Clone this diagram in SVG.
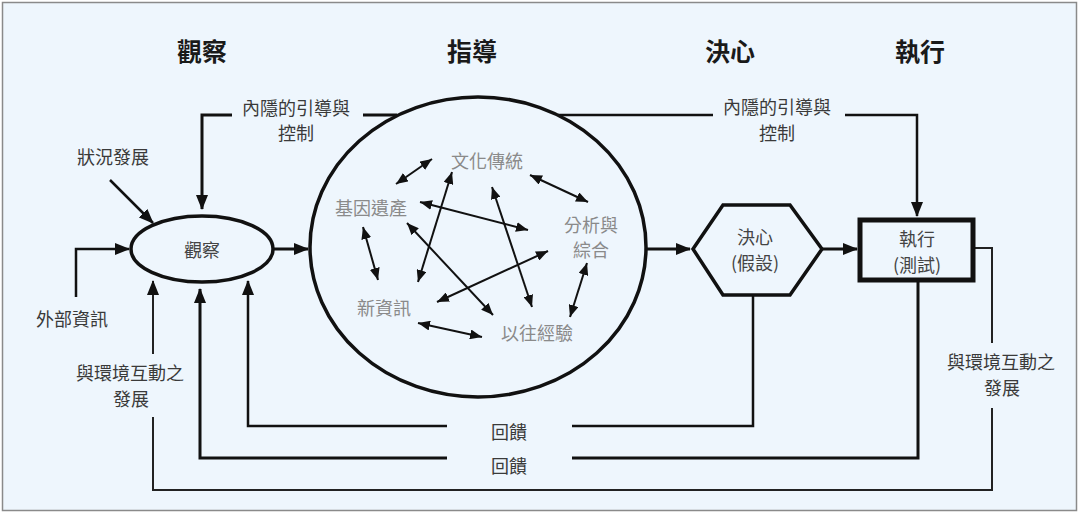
<svg xmlns="http://www.w3.org/2000/svg" width="1080" height="514" viewBox="0 0 1080 514">
<style>
text{font-family:"Noto Sans CJK TC","Noto Sans CJK SC",sans-serif;text-anchor:middle;dominant-baseline:central}
.h{font-size:25px;font-weight:bold;fill:#1a1a1a}
.l{font-size:18px;fill:#3a3a3a}
.g{font-size:18px;fill:#8a8a8a}
.n{font-size:18px;fill:#444}
.thick{fill:none;stroke:#111;stroke-width:3}
.med{fill:none;stroke:#111;stroke-width:2.5}
.thin{fill:none;stroke:#222;stroke-width:2}
.inner{fill:none;stroke:#111;stroke-width:2;marker-start:url(#as);marker-end:url(#as)}
</style>
<defs>
<marker id="ah" markerUnits="userSpaceOnUse" markerWidth="15" markerHeight="12" refX="14" refY="6" orient="auto"><path d="M0,0 L15,6 L0,12 z" fill="#111"/></marker>
<marker id="as" markerUnits="userSpaceOnUse" markerWidth="12" markerHeight="10" refX="12" refY="5" orient="auto-start-reverse"><path d="M0,0 L12,5 L0,10 z" fill="#111"/></marker>
</defs>
<rect x="0" y="0" width="1080" height="514" fill="#ffffff"/>
<rect x="2.5" y="2.5" width="1074" height="508" fill="#eef6fd" stroke="#8a8a8a" stroke-width="1.5"/>

<g id="headers">
<text class="h" x="202" y="50">觀察</text>
<text class="h" x="472" y="50">指導</text>
<text class="h" x="730" y="50">決心</text>
<text class="h" x="920" y="50">執行</text>
</g>

<g id="connectors">
<path class="thick" d="M397,115 L363,115"/>
<path class="thick" d="M232,115 L202,115 L202,209" marker-end="url(#ah)"/>
<path class="med" d="M558,115 L713,115"/>
<path class="med" d="M845,115 L917,115 L917,216" marker-end="url(#ah)"/>
<path class="thick" d="M273,249 L308,249" marker-end="url(#ah)"/>
<path class="thick" d="M646,249 L690,249" marker-end="url(#ah)"/>
<path class="thick" d="M822,249 L857,249" marker-end="url(#ah)"/>
<path class="med" d="M110,180 L153,223" marker-end="url(#ah)"/>
<path class="med" d="M76,297 L76,249 L129,249" marker-end="url(#ah)"/>
<path class="med" d="M753,295 L753,426 L572,426"/>
<path class="med" d="M447,426 L248,426 L248,281" marker-end="url(#ah)"/>
<path class="thick" d="M918,282 L918,458 L572,458"/>
<path class="thick" d="M447,458 L200,458 L200,289" marker-end="url(#ah)"/>
<path class="thin" d="M975,248 L992,248 L992,343"/>
<path class="thin" d="M992,408 L992,490 L153,490 L153,417"/>
<path class="thin" d="M153,354 L153,281" marker-end="url(#ah)"/>
<line class="inner" x1="396" y1="184" x2="432" y2="159"/>
<line class="inner" x1="530" y1="175" x2="588" y2="202"/>
<line class="inner" x1="420" y1="202" x2="528" y2="230"/>
<line class="inner" x1="452" y1="172" x2="418" y2="282"/>
<line class="inner" x1="492" y1="187" x2="532" y2="307"/>
<line class="inner" x1="407" y1="223" x2="493" y2="315"/>
<line class="inner" x1="363" y1="227" x2="378" y2="280"/>
<line class="inner" x1="437" y1="302" x2="548" y2="251"/>
<line class="inner" x1="418" y1="323" x2="482" y2="337"/>
<line class="inner" x1="587" y1="263" x2="570" y2="317"/>
</g>

<g id="labels">
<text class="l" x="296" y="107">內隱的引導與</text>
<text class="l" x="296" y="132">控制</text>
<text class="l" x="777" y="106">內隱的引導與</text>
<text class="l" x="777" y="132">控制</text>
<text class="l" x="113" y="156">狀況發展</text>
<text class="l" x="72" y="318">外部資訊</text>
<text class="l" x="130" y="372">與環境互動之</text>
<text class="l" x="131" y="398">發展</text>
<text class="l" x="1001" y="361">與環境互動之</text>
<text class="l" x="1002" y="387">發展</text>
<text class="l" x="509" y="431">回饋</text>
<text class="l" x="509" y="465">回饋</text>
</g>

<g id="observe">
<ellipse cx="202" cy="249" rx="71" ry="33" fill="none" stroke="#111" stroke-width="3.5"/>
<text class="n" x="202" y="249">觀察</text>
</g>

<g id="orient">
<ellipse cx="478" cy="247" rx="168" ry="150" fill="none" stroke="#111" stroke-width="3.5"/>
<text class="g" x="487" y="160">文化傳統</text>
<text class="g" x="371" y="207">基因遺產</text>
<text class="g" x="591" y="224">分析與</text>
<text class="g" x="591" y="249">綜合</text>
<text class="g" x="384" y="307">新資訊</text>
<text class="g" x="537" y="332">以往經驗</text>
</g>

<g id="decide">
<polygon points="693,249 723,205 790,205 822,249 790,295 723,295" fill="none" stroke="#111" stroke-width="3.5"/>
<text class="n" x="755" y="236">決心</text>
<text class="n" x="755" y="262">(假設)</text>
</g>

<g id="act">
<rect x="860" y="220" width="113" height="60" fill="none" stroke="#111" stroke-width="5"/>
<text class="n" x="917" y="238">執行</text>
<text class="n" x="917" y="264">(測試)</text>
</g>
</svg>
